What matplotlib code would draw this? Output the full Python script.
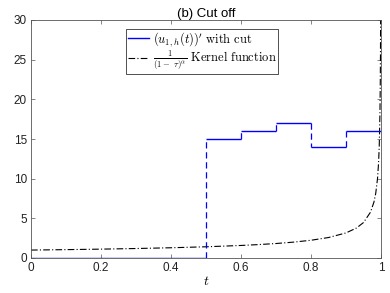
import matplotlib
matplotlib.use("Agg")
import matplotlib.pyplot as plt

# Step function (u_{1,h}(t))' with cut
step_edges = [0.0, 0.5, 0.6, 0.7, 0.8, 0.9, 1.0]
step_values = [0, 15, 16, 17, 14, 16]

# Kernel function 1/(1-tau)^alpha samples
kernel_t = [0.0, 0.1, 0.2, 0.3, 0.4, 0.5, 0.6, 0.65, 0.7, 0.75, 0.8, 0.85, 0.9,
            0.93, 0.95, 0.97, 0.98, 0.985, 0.99, 0.993, 0.995, 0.997, 0.998, 0.9985, 0.999]
kernel_v = [1.0, 1.054, 1.118, 1.195, 1.291, 1.414, 1.581, 1.690, 1.826, 2.0, 2.236, 2.582, 3.162,
            3.780, 4.472, 5.774, 7.071, 8.165, 10.0, 11.95, 14.14, 18.26, 22.36, 25.8, 31.6]

x_ticks = [0, 0.2, 0.4, 0.6, 0.8, 1]
x_ticklabels = ["0", "0.2", "0.4", "0.6", "0.8", "1"]
y_ticks = [0, 5, 10, 15, 20, 25, 30]

plt.rcParams['mathtext.fontset'] = 'cm'
plt.rcParams['font.family'] = ['Liberation Sans', 'DejaVu Sans']

fig = plt.figure(figsize=(3.9, 2.93), dpi=100)
ax = fig.add_axes([31/390, 1-258/293, 350/390, 238/293])

blue = '#0000ff'
# horizontal segments solid
ax.hlines(step_values, step_edges[:-1], step_edges[1:], colors=blue, lw=1.0, zorder=3)
# vertical jumps dashed
for i in range(1, len(step_values)):
    ax.vlines(step_edges[i], step_values[i-1], step_values[i], colors=blue, lw=0.9,
              linestyles=(0, (5, 3)), zorder=3)
ax.plot([], [], color=blue, lw=1.0, label=r"$(u_{1,h}(t))'\ \mathrm{with\ cut}$")

ax.plot(kernel_t, kernel_v, color='black', lw=0.8, linestyle=(0, (6, 2, 1, 2)),
        label=r"$\frac{1}{(1-\ \tau)^\alpha}\ \mathrm{Kernel\ function}$")

ax.set_xlim(0, 1)
ax.set_ylim(0, 30)
ax.set_xticks(x_ticks)
ax.set_xticklabels(x_ticklabels)
ax.set_yticks(y_ticks)
ax.tick_params(direction='in', top=True, right=True, labelsize=8.5, length=3,
               width=0.5, color='#555555', labelcolor='#222222', pad=3)
for s in ax.spines.values():
    s.set_linewidth(0.6)
    s.set_color('#555555')
ax.set_xlabel(r"$t$", fontsize=10, labelpad=0)
ax.set_title("(b) Cut off", fontsize=9.5, pad=2)

leg = ax.legend(loc='upper center', bbox_to_anchor=(0.489, 0.963), fontsize=9,
                frameon=True, fancybox=False, edgecolor='#333333', framealpha=1,
                borderpad=0.1, labelspacing=0.05, handlelength=1.7, handletextpad=0.3,
                borderaxespad=0)
leg.get_frame().set_linewidth(0.6)

fig.savefig("out.png", dpi=100)
